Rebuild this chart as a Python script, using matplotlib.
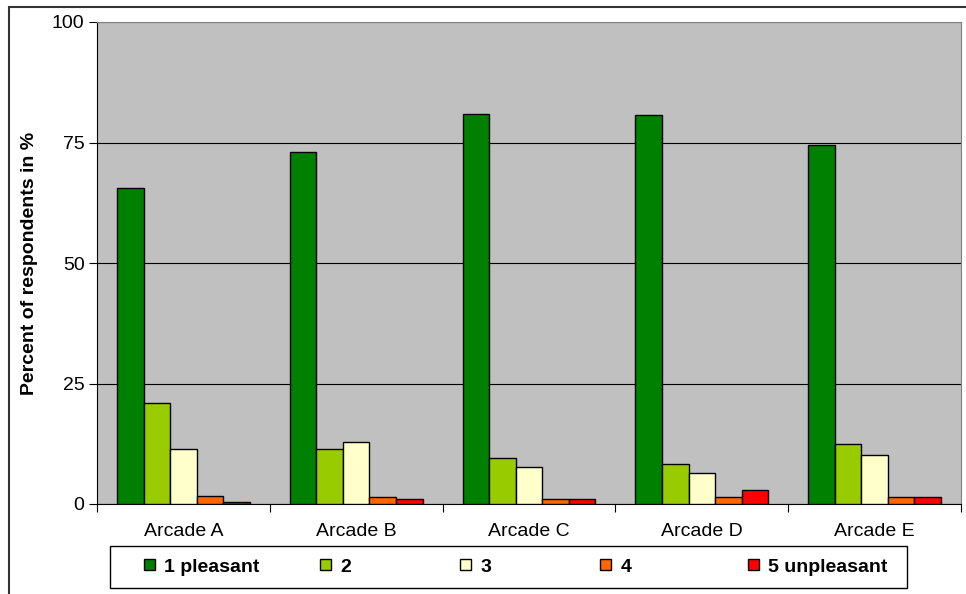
import numpy as np
import matplotlib.pyplot as plt
from matplotlib.patches import Rectangle

# Ratings per arcade, percent of respondents
arcades = ['Arcade A', 'Arcade B', 'Arcade C', 'Arcade D', 'Arcade E']
ratings = ['1 pleasant', '2', '3', '4', '5 unpleasant']
pleasant = [65.5, 73.0, 81.0, 80.8, 74.5]
r2 = [21.0, 11.5, 9.5, 8.3, 12.5]
r3 = [11.5, 12.8, 7.6, 6.5, 10.1]
r4 = [1.6, 1.5, 1.0, 1.5, 1.5]
unpleasant = [0.5, 1.0, 1.0, 3.0, 1.5]
colors = ['#008000', '#99CC00', '#FFFFCC', '#FF6600', '#FF0000']

plt.rcParams['font.family'] = ['Liberation Sans', 'DejaVu Sans']

fig = plt.figure(figsize=(9.66, 5.94), dpi=100)
ax = fig.add_axes([97 / 966, 1 - 504 / 594, 864 / 966, 482 / 594])
ax.set_facecolor('#C0C0C0')

series = [pleasant, r2, r3, r4, unpleasant]
x = np.arange(len(arcades))
w = 1 / 6.5
bars = []
for i, (vals, lab, c) in enumerate(zip(series, ratings, colors)):
    b = ax.bar(x + (i - 2) * w, vals, w, color=c, edgecolor='black',
               linewidth=1, label=lab, zorder=3)
    bars.append(b)

ax.set_xlim(-0.5, len(arcades) - 0.5)
ax.set_ylim(0, 100)
ax.set_yticks([0, 25, 50, 75, 100])
ax.yaxis.grid(True, color='black', linewidth=0.8, zorder=1)
ax.set_xticks(np.arange(-0.5, len(arcades), 1))
ax.set_xticklabels([])
ax.set_xticks(x, minor=True)
ax.set_xticklabels(arcades, minor=True)
ax.tick_params(axis='x', which='minor', length=0, pad=14, labelsize=14)
ax.tick_params(axis='x', which='major', length=6, direction='out', color='black')
ax.tick_params(axis='y', length=6, direction='out', labelsize=14, pad=3)
ax.set_ylabel('Percent of respondents in %', fontsize=14, fontweight='bold',
              labelpad=10)

for side in ['top', 'right']:
    ax.spines[side].set_color('#808080')
for side in ['left', 'bottom']:
    ax.spines[side].set_color('black')

# legend: one entry per slot, inside a common box
fig.patches.append(Rectangle((110 / 966, 1 - 588 / 594), 797 / 966, 42 / 594,
                             transform=fig.transFigure, fill=False,
                             edgecolor='black', linewidth=1))
slots = [144, 320, 460, 600, 748]
for b, lab, sx in zip(bars, ratings, slots):
    fig.legend([b], [lab], loc='center left',
               bbox_to_anchor=(sx / 966, 1 - 567 / 594),
               prop={'weight': 'bold', 'size': 14}, frameon=False,
               handlelength=0.55, handleheight=0.55, handletextpad=0.5,
               borderaxespad=0, borderpad=0)

# outer chart border
fig.patches.append(Rectangle((9 / 966, -0.1), 1.1, 1.1 - 7 / 594,
                             transform=fig.transFigure, fill=False,
                             edgecolor='#333333', linewidth=1.5))

fig.savefig('out.png', dpi=100)
